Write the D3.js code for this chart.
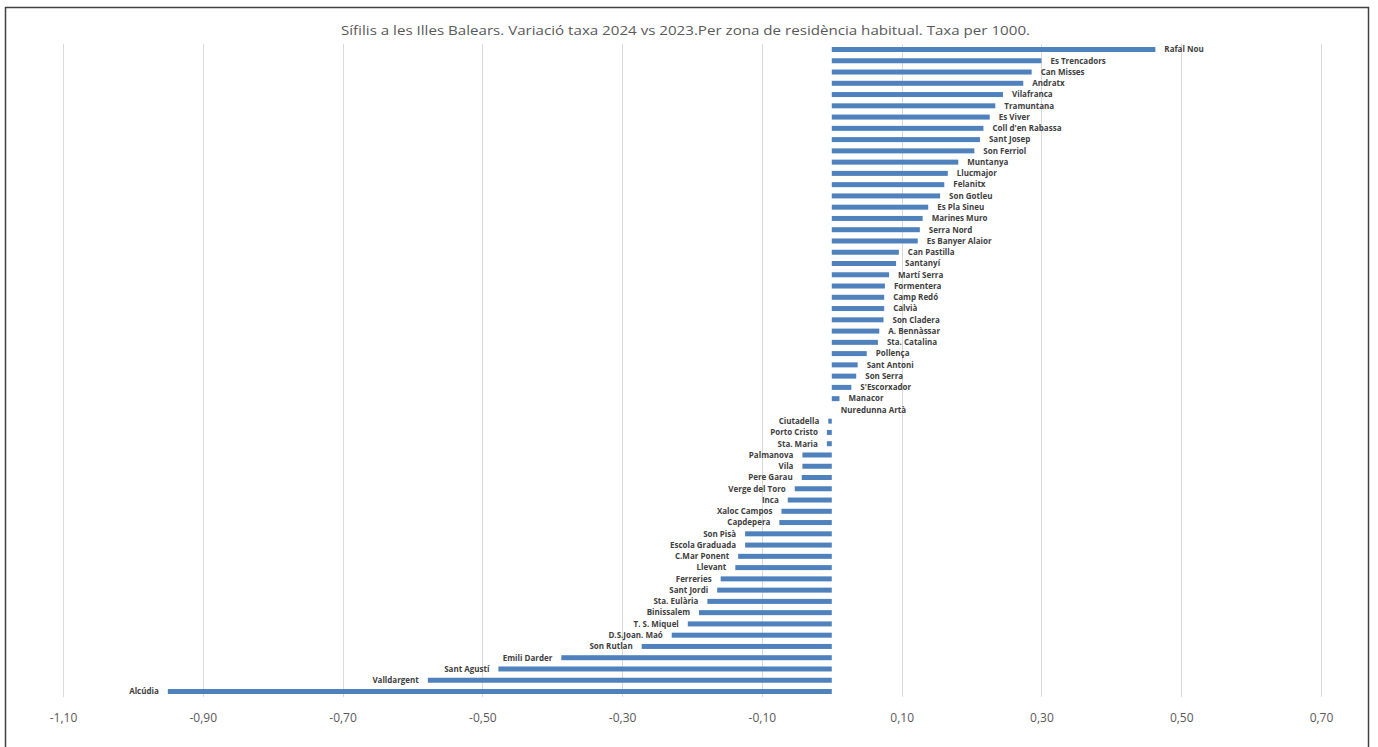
<!DOCTYPE html>
<html>
<head>
<meta charset="utf-8">
<script src="https://cdn.jsdelivr.net/npm/d3@7"></script>
<style>
  html, body { margin: 0; padding: 0; background: #fff; }
  svg { display: block; }
</style>
</head>
<body>
<svg id="chart" width="1378" height="747"></svg>
<script>
const titleText = "Sífilis a les Illes Balears. Variació taxa 2024 vs 2023.Per zona de residència habitual. Taxa per 1000.";

const categories = [
  "Rafal Nou","Es Trencadors","Can Misses","Andratx","Vilafranca","Tramuntana","Es Viver",
  "Coll d'en Rabassa","Sant Josep","Son Ferriol","Muntanya","Llucmajor","Felanitx","Son Gotleu",
  "Es Pla Sineu","Marines Muro","Serra Nord","Es Banyer Alaior","Can Pastilla","Santanyí",
  "Martí Serra","Formentera","Camp Redó","Calvià","Son Cladera","A. Bennàssar","Sta. Catalina",
  "Pollença","Sant Antoni","Son Serra","S'Escorxador","Manacor","Nuredunna Artà",
  "Ciutadella","Porto Cristo","Sta. Maria","Palmanova","Vila","Pere Garau","Verge del Toro",
  "Inca","Xaloc Campos","Capdepera","Son Pisà","Escola Graduada","C.Mar Ponent","Llevant",
  "Ferreries","Sant Jordi","Sta. Eulària","Binissalem","T. S. Miquel","D.S.Joan. Maó",
  "Son Rutlan","Emili Darder","Sant Agustí","Valldargent","Alcúdia"
];

const values = [
  0.463, 0.300, 0.286, 0.274, 0.245, 0.234, 0.226,
  0.217, 0.212, 0.204, 0.181, 0.166, 0.161, 0.155,
  0.138, 0.130, 0.126, 0.123, 0.096, 0.092,
  0.082, 0.076, 0.075, 0.075, 0.074, 0.068, 0.066,
  0.050, 0.037, 0.035, 0.028, 0.011, 0.000,
  -0.005, -0.007, -0.007, -0.042, -0.042, -0.043, -0.053,
  -0.063, -0.072, -0.075, -0.124, -0.124, -0.134, -0.138,
  -0.159, -0.164, -0.178, -0.190, -0.206, -0.229,
  -0.272, -0.387, -0.477, -0.578, -0.950
];

const tickValues = [-1.10, -0.90, -0.70, -0.50, -0.30, -0.10, 0.10, 0.30, 0.50, 0.70];

const svg = d3.select("#chart");

const locale = d3.formatLocale({decimal: ",", thousands: ".", grouping: [3], currency: ["", "€"], minus: "-"});
const fmt = locale.format(".2f");

const x = d3.scaleLinear().domain([-1.10, 0.70]).range([63, 1321]);
const y = d3.scalePoint().domain(categories).range([49.5, 691.5]);
const barH = 5;
const plotTop = 44, plotBottom = 697;

// border
svg.append("rect")
  .attr("x", 5.5).attr("y", 7.5)
  .attr("width", 1363).attr("height", 760)
  .attr("fill", "none").attr("stroke", "#404040").attr("stroke-width", 1.5);

// title
svg.append("text")
  .attr("x", 685.5).attr("y", 35)
  .attr("text-anchor", "middle")
  .attr("font-family", "'Open Sans', 'Noto Sans', sans-serif")
  .attr("font-size", 13.5)
  .attr("fill", "#595959")
  .attr("textLength", 689)
  .attr("lengthAdjust", "spacingAndGlyphs")
  .text(titleText);

// gridlines
svg.append("g").selectAll("line")
  .data(tickValues)
  .join("line")
  .attr("x1", d => Math.round(x(d)) + 0.5)
  .attr("x2", d => Math.round(x(d)) + 0.5)
  .attr("y1", plotTop).attr("y2", plotBottom)
  .attr("stroke", "#d9d9d9").attr("stroke-width", 1);

// x axis labels
const axis = d3.axisBottom(x).tickValues(tickValues).tickFormat(fmt).tickSize(0).tickPadding(0);
const gAxis = svg.append("g").attr("transform", `translate(0, 713)`).call(axis);
gAxis.select(".domain").remove();
gAxis.selectAll("text")
  .attr("font-family", "'Open Sans', 'Noto Sans', sans-serif")
  .attr("font-size", 12)
  .attr("fill", "#595959");

// bars
svg.append("g").selectAll("rect")
  .data(categories.map((c, i) => ({c, v: values[i]})))
  .join("rect")
  .attr("x", d => x(Math.min(0, d.v)))
  .attr("y", d => y(d.c) - barH / 2)
  .attr("width", d => Math.abs(x(d.v) - x(0)))
  .attr("height", barH)
  .attr("fill", "#4f81bd");

// labels
svg.append("g").selectAll("text")
  .data(categories.map((c, i) => ({c, v: values[i]})))
  .join("text")
  .attr("x", d => d.v >= 0 ? x(d.v) + 9 : x(d.v) - 9)
  .attr("y", d => y(d.c))
  .attr("dy", "0.35em")
  .attr("text-anchor", d => d.v >= 0 ? "start" : "end")
  .attr("font-family", "'Liberation Sans Narrow', 'Open Sans', sans-serif")
  .attr("font-weight", "bold")
  .attr("font-size", 8)
  .attr("fill", "#404040")
  .text(d => d.c);
</script>
</body>
</html>
